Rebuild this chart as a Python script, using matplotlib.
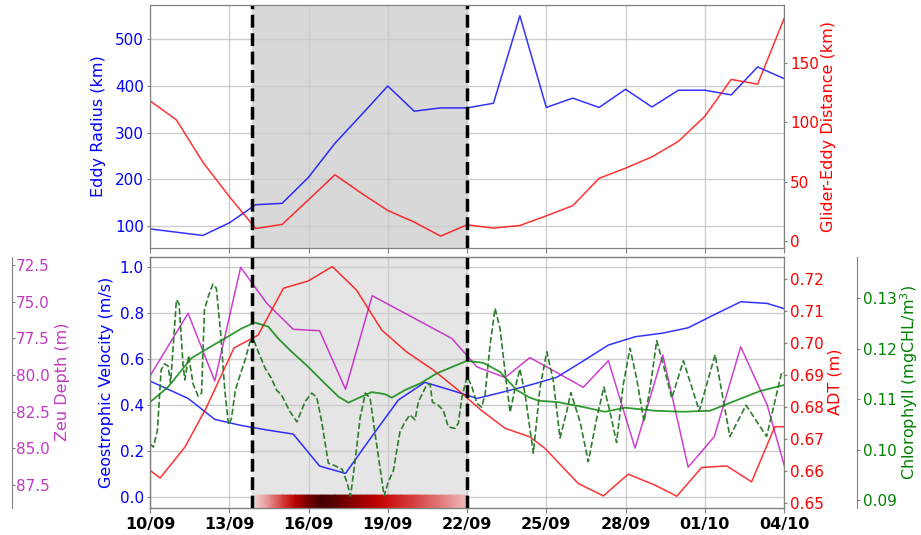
import numpy as np
import matplotlib.pyplot as plt
from matplotlib.colors import LinearSegmentedColormap

# all times are in days counted from 10/09
tick_days = [0, 3, 6, 9, 12, 15, 18, 21, 24]
tick_labels = ['10/09', '13/09', '16/09', '19/09', '22/09', '25/09', '28/09', '01/10', '04/10']

# top panel (daily)
top_days = list(range(25))
eddy_radius = [93, 86, 79, 106, 145, 148, 204, 277, 338, 400, 346, 353, 353, 363, 551,
               354, 374, 354, 393, 355, 391, 391, 381, 441, 416]
glider_dist = [118, 102, 66.5, 37.7, 10.9, 14.3, 35, 56, 40.5, 26, 16.3, 4.5, 14, 11.2, 13.4,
               21.5, 30, 53, 61.5, 71, 84, 105, 136, 132, 187]

# bottom panel
vel_days = [-0.57, 0.43, 1.44, 2.45, 3.43, 4.42, 5.42, 6.42, 7.40, 8.41, 9.40, 10.40, 11.42,
            12.38, 13.44, 14.38, 15.40, 16.40, 17.35, 18.36, 19.41, 20.37, 21.36, 22.36, 23.36, 24.40]
geo_vel = [0.535, 0.483, 0.430, 0.339, 0.313, 0.293, 0.275, 0.136, 0.104, 0.267, 0.423, 0.500, 0.465,
           0.430, 0.460, 0.488, 0.522, 0.593, 0.662, 0.698, 0.714, 0.737, 0.794, 0.850, 0.843, 0.806]

zeu_days = [-0.57, 0.43, 1.44, 2.45, 3.43, 4.42, 5.42, 6.42, 7.40, 8.41, 11.42, 12.38, 13.44,
            14.38, 16.40, 17.35, 18.36, 19.41, 20.37, 21.36, 22.36, 23.36, 24.40]
zeu_depth = [81.75, 78.79, 75.79, 80.41, 72.66, 75.11, 76.88, 76.98, 80.97, 74.59, 77.50, 79.45, 80.17,
             78.81, 80.84, 79.02, 84.99, 78.63, 86.29, 84.20, 78.07, 82.04, 88.66]

adt_days = [-0.6, 0.38, 1.32, 2.12, 3.18, 4.09, 5.05, 5.99, 6.90, 7.82, 8.77, 9.72, 10.72, 11.66,
            12.53, 13.44, 14.38, 14.95, 16.21, 17.16, 18.10, 19.11, 19.94, 20.88, 21.83, 22.77, 23.65, 24.6]
adt = [0.664, 0.6577, 0.6674, 0.6796, 0.6985, 0.7025, 0.7172, 0.7195, 0.7240, 0.7166, 0.7041, 0.6972,
       0.6916, 0.6853, 0.6790, 0.6733, 0.6706, 0.6670, 0.6560, 0.6521, 0.6589, 0.6555, 0.6520, 0.6610,
       0.6615, 0.6565, 0.6738, 0.6738]

chl_days = [0.00, 0.68, 1.56, 2.13, 2.95, 3.46, 3.96, 4.47, 4.84, 5.36, 5.99, 6.62, 7.13, 7.51, 7.88,
            8.39, 8.89, 9.15, 9.65, 10.22, 10.85, 11.99, 12.62, 13.25, 13.88, 14.38, 14.70, 15.45,
            16.34, 17.22, 17.98, 19.11, 20.19, 21.20, 22.21, 23.09, 24.00]
chl_smooth = [0.1094, 0.1124, 0.1181, 0.1199, 0.1224, 0.1240, 0.1252, 0.1244, 0.1221, 0.1194, 0.1164,
              0.1131, 0.1105, 0.1093, 0.1102, 0.1114, 0.1110, 0.1103, 0.1118, 0.1131, 0.1151, 0.1176,
              0.1172, 0.1154, 0.1118, 0.1103, 0.1097, 0.1094, 0.1085, 0.1075, 0.1083, 0.1077, 0.1075,
              0.1077, 0.1098, 0.1116, 0.1128]

raw_days = [0.00, 0.13, 0.28, 0.42, 0.55, 0.68, 0.78, 1.00, 1.10, 1.25, 1.32, 1.46, 1.63, 1.82, 1.95,
            2.06, 2.20, 2.38, 2.51, 2.67, 2.83, 2.97, 3.08, 3.23, 3.41, 3.60, 3.79, 3.94, 4.09, 4.35,
            4.59, 4.79, 4.98, 5.30, 5.56, 5.87, 6.12, 6.31, 6.50, 6.75, 7.00, 7.27, 7.45, 7.59, 7.76,
            7.95, 8.15, 8.33, 8.52, 8.71, 8.86, 9.02, 9.21, 9.46, 9.65, 9.84, 10.03, 10.16, 10.47, 10.60,
            10.69, 10.91, 11.10, 11.29, 11.54, 11.67, 11.80, 12.00, 12.18, 12.37, 12.55, 12.68, 12.87,
            13.06, 13.25, 13.44, 13.63, 13.82, 14.00, 14.19, 14.51, 14.76, 15.02, 15.27, 15.52, 15.77,
            15.93, 16.28, 16.59, 16.91, 17.18, 17.41, 17.66, 17.91, 18.17, 18.42, 18.70, 18.93, 19.18,
            19.43, 19.75, 20.19, 20.79, 21.39, 21.95, 22.56, 23.34, 23.91, 24.00]
chl_raw = [0.1011, 0.1005, 0.1039, 0.1158, 0.1170, 0.1166, 0.1132, 0.1297, 0.1289, 0.1168, 0.1138,
           0.1186, 0.1130, 0.1106, 0.1112, 0.1277, 0.1303, 0.1328, 0.1320, 0.1233, 0.1118, 0.1049,
           0.1061, 0.1118, 0.1148, 0.1178, 0.1215, 0.1215, 0.1195, 0.1162, 0.1142, 0.1118, 0.1108,
           0.1075, 0.1055, 0.1095, 0.1112, 0.1104, 0.1055, 0.0973, 0.0968, 0.0961, 0.0936, 0.0908,
           0.0976, 0.1062, 0.1112, 0.1102, 0.1031, 0.0963, 0.0908, 0.0936, 0.0958, 0.1035, 0.1055,
           0.1069, 0.1059, 0.1095, 0.1128, 0.1130, 0.1094, 0.1088, 0.1078, 0.1045, 0.1042, 0.1052,
           0.1102, 0.1145, 0.1125, 0.1092, 0.1084, 0.1108, 0.1207, 0.1280, 0.1240, 0.1154, 0.1074,
           0.1122, 0.1160, 0.1112, 0.0993, 0.1122, 0.1194, 0.1135, 0.1023, 0.1075, 0.1113, 0.1055,
           0.0976, 0.1062, 0.1124, 0.1075, 0.1014, 0.1128, 0.1201, 0.1141, 0.1055, 0.1122, 0.1216,
           0.1168, 0.1102, 0.1176, 0.1077, 0.1188, 0.1026, 0.1088, 0.1026, 0.1153, 0.1152]

# colour strip under the event
strip_days = [4.0, 4.5, 5.0, 5.5, 6.0, 6.5, 7.0, 7.5, 8.0, 8.5, 9.0, 9.5, 10.0, 10.5, 11.0, 11.5, 12.0]
strip_level = [0.0, 0.15, 0.35, 0.55, 0.82, 1.0, 0.92, 0.78, 0.66, 0.55, 0.46, 0.40, 0.34, 0.27, 0.20, 0.12, 0.04]

event_start = 3.875
event_end = 12.0

zeu_col = '#c13bc1'

fig = plt.figure(figsize=(9.21, 5.35), dpi=100)
ax1 = fig.add_axes([0.1629, 0.5364, 0.6884, 0.4542])
ax2 = fig.add_axes([0.1629, 0.0510, 0.6884, 0.4692])

def style(ax, col):
    for s in ax.spines.values():
        s.set_color('0.5')
    ax.tick_params(axis='y', colors='0.5', labelcolor=col, labelsize=11, length=2.5, pad=2)
    ax.tick_params(axis='x', colors='0.5', labelcolor='k')

# ---- top panel
ax1.axvspan(event_start, event_end, color='gray', alpha=0.3, lw=0)
ax1.plot(top_days, eddy_radius, color='b', alpha=0.8, lw=1.1)
ax1.set_ylim(52, 574)
ax1.set_ylabel('Eddy Radius (km)', color='b', fontsize=11.5, labelpad=6)
ax1.grid(True, color='0.8', lw=1)
ax1.set_xlim(0, 24)
ax1.set_xticks(tick_days)
ax1.tick_params(labelbottom=False)
style(ax1, 'b')

ax1b = ax1.twinx()
ax1b.plot(top_days, glider_dist, color='r', alpha=0.8, lw=1.1)
ax1b.set_ylim(-5.5, 198.4)
ax1b.set_ylabel('Glider-Eddy Distance (km)', color='r', fontsize=11.5, labelpad=1)
style(ax1b, 'r')
for x in (event_start, event_end):
    ax1b.axvline(x, color='k', ls='--', lw=2.5)

# ---- bottom panel
ax2.axvspan(event_start, event_end, color='gray', alpha=0.2, lw=0)
ax2.plot(vel_days, geo_vel, color='b', alpha=0.8, lw=1.1)
vel_lim = (-0.045, 1.046)
ax2.set_ylim(*vel_lim)
ax2.set_ylabel('Geostrophic Velocity (m/s)', color='b', fontsize=11.5)
ax2.grid(True, color='0.8', lw=1)
ax2.set_xlim(0, 24)
ax2.set_xticks(tick_days)
ax2.set_xticklabels(tick_labels, fontweight='bold', fontsize=11.5)
style(ax2, 'b')

cmap = LinearSegmentedColormap.from_list('strip', ['#f3cccc', '#c80000', '#450000'])
sx = np.array([strip_days, strip_days])
sy = np.array([[vel_lim[0]] * len(strip_days), [0.01] * len(strip_days)])
sc = np.array([strip_level, strip_level])
ax2.pcolormesh(sx, sy, sc, shading='gouraud', cmap=cmap, vmin=0, vmax=1, zorder=3)

par1 = ax2.twinx()
par1.spines['right'].set_position(('axes', -0.2177))
par1.plot(zeu_days, zeu_depth, color='m', alpha=0.75, lw=1.1)
par1.set_ylim(89.05, 71.93)
par1.set_ylabel('Zeu Depth (m)', color=zeu_col, fontsize=11.5, labelpad=4)
style(par1, zeu_col)
par1.tick_params(axis='y', length=2, pad=1)

par2 = ax2.twinx()
par2.plot(adt_days, adt, color='r', alpha=0.8, lw=1.1)
par2.set_ylim(0.6484, 0.7271)
par2.set_ylabel('ADT (m)', color='r', fontsize=11.5, labelpad=2)
style(par2, 'r')

par3 = ax2.twinx()
par3.spines['right'].set_position(('axes', 1.1147))
par3.plot(chl_days, chl_smooth, color='g', alpha=0.8, lw=1.3)
par3.plot(raw_days, chl_raw, color='#2d7d2d', ls='--', lw=1.2)
par3.set_ylim(0.08847, 0.13825)
par3.set_ylabel('Chlorophyll (mgCHL/m$^3$)', color='g', fontsize=11.5, labelpad=1)
style(par3, 'g')
for x in (event_start, event_end):
    par3.axvline(x, color='k', ls='--', lw=2.5)

ax2.set_xlim(0, 24)
fig.savefig('out.png', dpi=100)
